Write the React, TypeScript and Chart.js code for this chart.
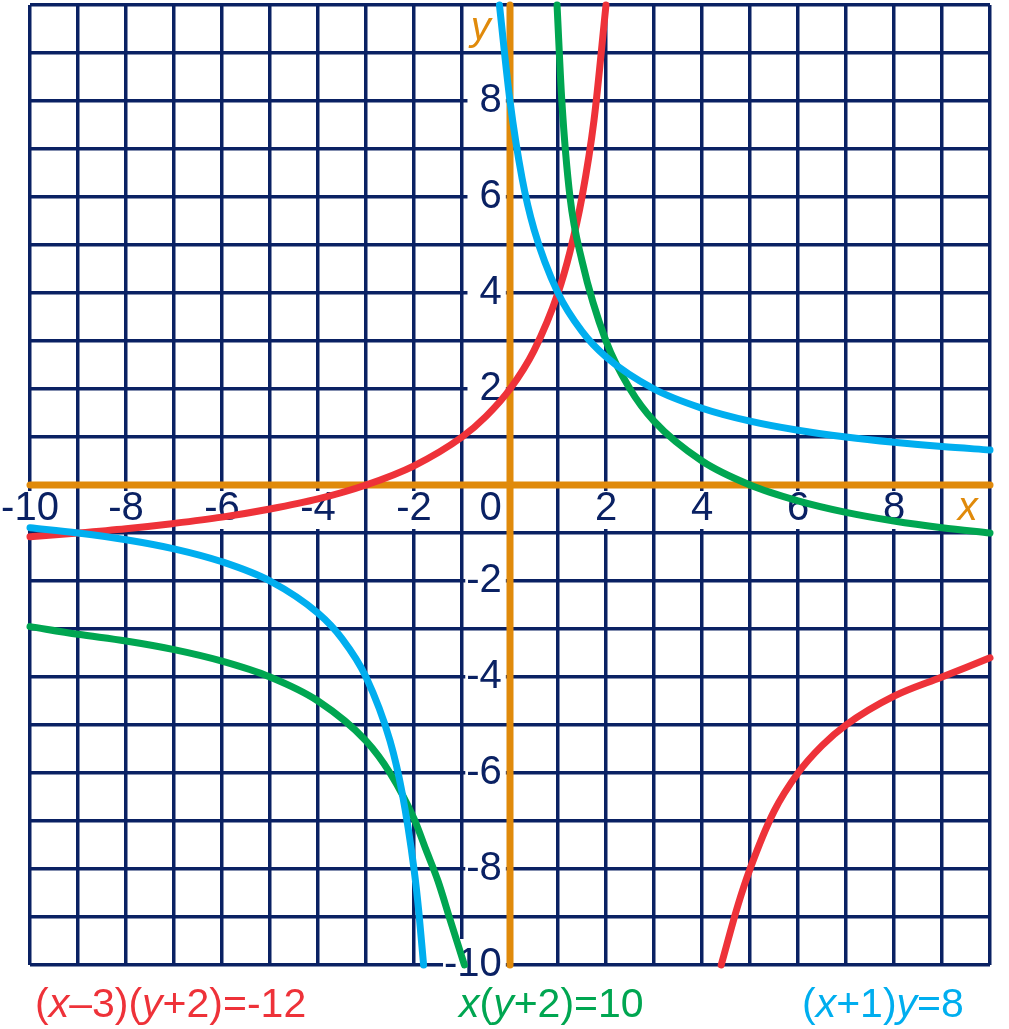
import React, { useEffect, useRef } from 'react';
import { Chart, registerables } from 'chart.js';

Chart.register(...registerables);

// ---- data ----
const redLeftX = [-10, -9, -8, -7, -6, -5, -4, -3, -2, -1, -0.5, 0, 0.5, 1, 1.25, 1.5, 1.75, 2];
const redLeftY = [-1.08, -1.0, -0.91, -0.8, -0.67, -0.5, -0.29, 0, 0.4, 1, 1.43, 2, 2.8, 4, 4.86, 6, 7.6, 10];
const redRightX = [4.4, 4.75, 5, 5.5, 6, 6.5, 7, 8, 9, 10];
const redRightY = [-10, -8.75, -8, -6.8, -6, -5.43, -5, -4.4, -4, -3.6];

const greenLeftX = [-10, -9, -8, -7, -6, -5, -4, -3, -2.5, -2, -1.75, -1.5, -1.25, -0.95];
const greenLeftY = [-2.95, -3.11, -3.25, -3.43, -3.67, -4, -4.5, -5.33, -6, -6.95, -7.6, -8.25, -9.05, -10];
const greenRightX = [0.98, 1.08, 1.25, 1.5, 2, 2.5, 3, 4, 5, 6, 7, 8, 9, 10];
const greenRightY = [10, 8, 6, 4.67, 3, 2, 1.33, 0.5, 0, -0.33, -0.57, -0.75, -0.89, -1];

const blueLeftX = [-10, -9, -8, -7, -6, -5, -4, -3.5, -3, -2.5, -2.25, -2, -1.9, -1.8];
const blueLeftY = [-0.89, -1, -1.14, -1.33, -1.6, -2, -2.67, -3.2, -4, -5.33, -6.4, -8, -8.89, -10];
const blueRightX = [-0.22, 0, 0.25, 0.5, 1, 1.5, 2, 3, 4, 5, 6, 7, 8, 9, 10];
const blueRightY = [10, 8, 6.4, 5.33, 4, 3.2, 2.67, 2, 1.6, 1.33, 1.14, 1, 0.89, 0.8, 0.73];

const axisRange = [-10, 10];
const xAxisName = 'x';
const yAxisName = 'y';
const originLabel = '0';
const equations = ['(x–3)(y+2)=-12', 'x(y+2)=10', '(x+1)y=8'];

// ---- styles ----
const W = 1009;
const H = 1029;
const NAVY = '#0a2163';
const ORANGE = '#e08a0b';
const RED = '#ee3239';
const GREEN = '#00a651';
const BLUE = '#00aeef';
const FONT = '"Liberation Sans", Arial, Helvetica, sans-serif';

const pts = (xs: number[], ys: number[]) => xs.map((x, i) => ({ x, y: ys[i] }));

const curve = (xs: number[], ys: number[], color: string) => ({
  data: pts(xs, ys),
  borderColor: color,
  borderWidth: 7,
  borderCapStyle: 'round' as const,
  borderJoinStyle: 'round' as const,
  cubicInterpolationMode: 'monotone' as const,
  pointRadius: 0,
  fill: false,
  clip: false as const,
});

const axisLine = (xs: number[], ys: number[]) =>
  ({
    data: pts(xs, ys),
    borderColor: ORANGE,
    borderWidth: 7,
    borderCapStyle: 'round',
    pointRadius: 0,
    clip: false,
  } as any);

const tickValue = (ctx: any): number | undefined =>
  ctx && ctx.tick ? Number(ctx.tick.value) : undefined;

const isMax = (ctx: any) => tickValue(ctx) === axisRange[1];

const tickFont = (ctx: any) => ({
  family: FONT,
  size: 40,
  lineHeight: 1.2,
  style: isMax(ctx) ? ('italic' as const) : ('normal' as const),
});

const tickColor = (ctx: any) => (isMax(ctx) ? ORANGE : NAVY);

const backdropOn = (ctx: any) => {
  const v = tickValue(ctx);
  return v !== undefined && v % 2 === 0 && v !== 0 && v !== axisRange[1];
};

const zeroPadding = (scale: any) => {
  scale.paddingLeft = 0;
  scale.paddingRight = 0;
  scale.paddingTop = 0;
  scale.paddingBottom = 0;
};

function Eq({ text, color, left }: { text: string; color: string; left: number }) {
  const parts = text.split(/([xy])/);
  return (
    <span
      style={{
        position: 'absolute',
        left,
        top: 983,
        font: `41px ${FONT}`,
        lineHeight: '41px',
        whiteSpace: 'nowrap',
        color,
      }}
    >
      {parts.map((p, i) =>
        p === 'x' || p === 'y' ? <i key={i}>{p}</i> : <React.Fragment key={i}>{p}</React.Fragment>
      )}
    </span>
  );
}

export default function App() {
  const ref = useRef<HTMLCanvasElement>(null);

  useEffect(() => {
    if (!ref.current) return;
    const chart = new Chart(ref.current, {
      type: 'line',
      data: {
        datasets: [
          curve(blueLeftX, blueLeftY, BLUE),
          curve(blueRightX, blueRightY, BLUE),
          curve(greenLeftX, greenLeftY, GREEN),
          curve(greenRightX, greenRightY, GREEN),
          curve(redLeftX, redLeftY, RED),
          curve(redRightX, redRightY, RED),
          axisLine(axisRange, [0, 0]),
          axisLine([0, 0], axisRange),
        ],
      },
      options: {
        responsive: false,
        animation: false,
        devicePixelRatio: 1,
        layout: { padding: { left: 30, right: 19, top: 5, bottom: 64 } },
        plugins: { legend: { display: false }, tooltip: { enabled: false } },
        elements: { point: { radius: 0 } },
        scales: {
          x: {
            type: 'linear',
            min: axisRange[0],
            max: axisRange[1],
            position: { y: 0 } as any,
            afterFit: zeroPadding,
            border: { display: false },
            grid: { color: NAVY, lineWidth: 3.5, drawTicks: false },
            ticks: {
              stepSize: 1,
              autoSkip: false,
              maxRotation: 0,
              minRotation: 0,
              padding: 0,
              font: tickFont as any,
              color: tickColor as any,
              showLabelBackdrop: backdropOn as any,
              backdropColor: '#ffffff',
              backdropPadding: { left: 2, right: 2, top: -6, bottom: -4 } as any,
              callback: (value: any) => {
                const v = Number(value);
                if (v === axisRange[1]) return xAxisName + '    ';
                if (v === 0 || v % 2 !== 0) return '';
                return String(v);
              },
            },
          },
          y: {
            type: 'linear',
            min: axisRange[0],
            max: axisRange[1],
            position: { x: -0.17 } as any,
            afterFit: zeroPadding,
            border: { display: false },
            grid: { color: NAVY, lineWidth: 3.5, drawTicks: false },
            ticks: {
              stepSize: 1,
              autoSkip: false,
              padding: 0,
              font: tickFont as any,
              color: tickColor as any,
              showLabelBackdrop: backdropOn as any,
              backdropColor: '#ffffff',
              backdropPadding: { left: 1, right: 4, top: 2, bottom: 2 } as any,
              callback: (value: any) => {
                const v = Number(value);
                if (v === axisRange[1]) return ['', yAxisName + ' '];
                if (v === 0) return ['', originLabel];
                if (v % 2 !== 0) return '';
                return v > 0 ? ' ' + String(v) : String(v);
              },
            },
          },
        },
      },
    });
    return () => chart.destroy();
  }, []);

  return (
    <div style={{ position: 'absolute', left: 0, top: 0, width: W, height: H, background: '#fff', overflow: 'hidden' }}>
      <canvas ref={ref} width={W} height={H} style={{ position: 'absolute', left: 0, top: 0, width: W, height: H }} />
      <Eq text={equations[0]} color={RED} left={35} />
      <Eq text={equations[1]} color={GREEN} left={459} />
      <Eq text={equations[2]} color={BLUE} left={802} />
    </div>
  );
}
